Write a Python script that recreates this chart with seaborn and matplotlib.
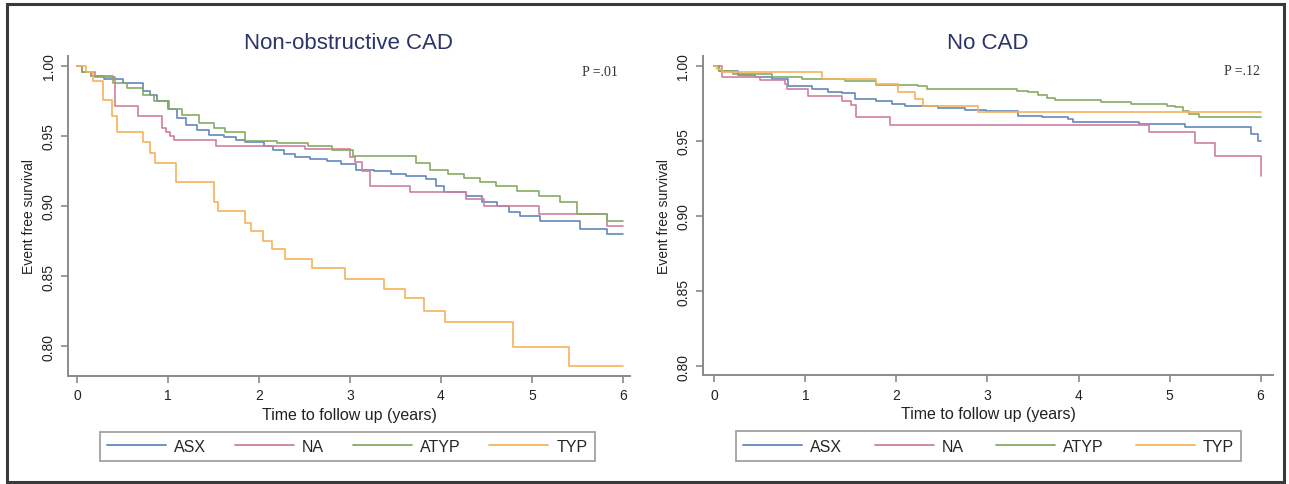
import numpy as np
import pandas as pd
import matplotlib
matplotlib.use("Agg")
from matplotlib import pyplot as plt
from matplotlib.patches import Rectangle
import seaborn as sns

# group labels + colours (Stata-ish muted palette)
groups = ["ASX", "NA", "ATYP", "TYP"]
colors = {"ASX": "#6288bb", "NA": "#cf7fa0", "ATYP": "#86ab62", "TYP": "#f5b35a"}

# ---- Non-obstructive CAD (left panel), step times (years) and survival ----
left_asx_t = [0, 0.05, 0.15, 0.3, 0.5, 0.72, 0.8, 0.88, 1.0, 1.1, 1.2, 1.32, 1.45, 1.61, 1.75, 1.85,
              2.05, 2.15, 2.27, 2.4, 2.56, 2.75, 2.9, 3.07, 3.26, 3.45, 3.62, 3.84, 3.95, 4.03, 4.28,
              4.45, 4.61, 4.75, 4.87, 5.09, 5.53, 5.82, 6.0]
left_asx_s = [1.0, 0.996, 0.993, 0.991, 0.988, 0.982, 0.979, 0.975, 0.969, 0.963, 0.958, 0.954, 0.951,
              0.949, 0.947, 0.946, 0.943, 0.940, 0.937, 0.935, 0.9336, 0.932, 0.930, 0.926, 0.925,
              0.923, 0.9216, 0.919, 0.914, 0.910, 0.907, 0.903, 0.900, 0.896, 0.893, 0.889, 0.8836,
              0.880, 0.880]

left_na_t = [0, 0.05, 0.2, 0.42, 0.67, 0.93, 0.98, 1.02, 1.07, 1.53, 2.5, 3.0, 3.05, 3.13, 3.22,
             3.66, 4.28, 4.47, 5.08, 5.82, 6.0]
left_na_s = [1.0, 0.996, 0.992, 0.9717, 0.964, 0.956, 0.953, 0.950, 0.947, 0.943, 0.941, 0.935,
             0.9317, 0.925, 0.9145, 0.910, 0.905, 0.900, 0.894, 0.886, 0.886]

left_atyp_t = [0, 0.05, 0.15, 0.4, 0.55, 0.72, 0.85, 1.01, 1.15, 1.34, 1.5, 1.63, 1.85, 2.2, 2.54,
               2.8, 3.03, 3.73, 3.88, 4.08, 4.25, 4.43, 4.6, 4.83, 5.08, 5.31, 5.49, 5.82, 6.0]
left_atyp_s = [1.0, 0.996, 0.993, 0.988, 0.984, 0.979, 0.975, 0.969, 0.965, 0.959, 0.956, 0.9526,
               0.9467, 0.945, 0.9426, 0.940, 0.9355, 0.931, 0.926, 0.923, 0.920, 0.917, 0.914,
               0.911, 0.9074, 0.903, 0.894, 0.889, 0.889]

left_typ_t = [0, 0.1, 0.18, 0.29, 0.38, 0.44, 0.73, 0.8, 0.86, 1.09, 1.50, 1.55, 1.85, 1.91, 2.04,
              2.14, 2.29, 2.58, 2.95, 3.37, 3.60, 3.81, 4.04, 4.79, 5.41, 6.0]
left_typ_s = [1.0, 0.996, 0.9895, 0.976, 0.964, 0.9526, 0.946, 0.938, 0.931, 0.917, 0.903, 0.8967,
              0.888, 0.882, 0.875, 0.869, 0.862, 0.8555, 0.848, 0.841, 0.834, 0.825, 0.817, 0.799,
              0.786, 0.786]

# ---- No CAD (right panel) ----
right_asx_t = [0, 0.05, 0.26, 0.45, 0.63, 0.81, 1.07, 1.25, 1.40, 1.54, 1.78, 1.95, 2.09, 2.46, 2.75,
               2.98, 3.34, 3.6, 3.89, 3.94, 4.66, 5.17, 5.90, 5.97, 6.0]
right_asx_s = [1.0, 0.997, 0.9942, 0.993, 0.9913, 0.9869, 0.9847, 0.983, 0.9818, 0.978, 0.9769, 0.975,
               0.9735, 0.972, 0.9707, 0.9698, 0.967, 0.966, 0.9647, 0.9624, 0.9613, 0.9596, 0.9547,
               0.950, 0.950]

right_na_t = [0, 0.08, 0.5, 0.77, 0.8, 1.03, 1.40, 1.50, 1.56, 1.93, 4.77, 5.28, 5.50, 6.0]
right_na_s = [1.0, 0.9924, 0.991, 0.988, 0.9847, 0.980, 0.9769, 0.974, 0.9658, 0.961, 0.9558, 0.949,
              0.940, 0.927]

right_atyp_t = [0, 0.05, 0.2, 0.63, 0.96, 1.43, 1.78, 2.24, 2.33, 3.32, 3.45, 3.56, 3.65, 3.74, 4.25,
                4.58, 4.97, 5.06, 5.15, 5.21, 5.32, 6.0]
right_atyp_s = [1.0, 0.9965, 0.9947, 0.9929, 0.9913, 0.9898, 0.9876, 0.9864, 0.985, 0.9836, 0.9825,
                0.981, 0.979, 0.9773, 0.9758, 0.9747, 0.9735, 0.9724, 0.970, 0.968, 0.9662, 0.9662]

right_typ_t = [0, 0.03, 0.08, 1.18, 1.78, 2.02, 2.20, 2.29, 2.90, 6.0]
right_typ_s = [1.0, 0.998, 0.9958, 0.9913, 0.988, 0.9824, 0.978, 0.9735, 0.9695, 0.9695]

yticks = [0.80, 0.85, 0.90, 0.95, 1.00]
xticks = [0, 1, 2, 3, 4, 5, 6]


def to_long(series):
    frames = []
    for g, (t, s) in zip(groups, series):
        frames.append(pd.DataFrame({"t": t, "S": s, "group": g}))
    return pd.concat(frames, ignore_index=True)


def draw_panel(ax, df, title, pval, xlim, ylim):
    sns.lineplot(data=df, x="t", y="S", hue="group", hue_order=groups, palette=colors,
                 drawstyle="steps-post", estimator=None, sort=False, linewidth=1.2, ax=ax)
    ax.set_xlim(*xlim)
    ax.set_ylim(*ylim)
    ax.set_xticks(xticks)
    ax.set_yticks(yticks)
    ax.set_yticklabels([f"{v:.2f}" for v in yticks], rotation=90, va="center")
    ax.tick_params(axis="both", which="major", bottom=True, left=True, direction="out",
                   length=5, width=1.2, color="#8a8a8a", labelsize=10, labelcolor="#222222", pad=4)
    for side in ["top", "right"]:
        ax.spines[side].set_visible(False)
    for side in ["left", "bottom"]:
        ax.spines[side].set_color("#8a8a8a")
        ax.spines[side].set_linewidth(1.4)
    ax.set_xlabel("Time to follow up (years)", fontsize=11.5, color="#222222", labelpad=3)
    ax.set_ylabel("Event free survival", fontsize=10, color="#222222", labelpad=4)
    ax.set_title(title, fontsize=16, color="#2a3468", pad=6)
    ax.text(0.978, 0.953, pval, transform=ax.transAxes, ha="right", va="center",
            fontsize=10, color="#333333", family=["Liberation Serif", "DejaVu Serif"])
    handles, labels = ax.get_legend_handles_labels()
    leg = ax.legend(handles, labels, ncol=4, loc="lower left", mode="expand",
                    bbox_to_anchor=(0.057, -0.266, 0.88, 0.1), fontsize=11.5,
                    handlelength=3.7, handletextpad=0.5, fancybox=False, frameon=True,
                    borderpad=0.45, borderaxespad=0)
    leg.get_frame().set_edgecolor("#8a8a8a")
    leg.get_frame().set_linewidth(1.3)
    for line in leg.get_lines():
        line.set_linewidth(1.3)


sns.set_theme(style="white")
plt.rcParams["font.family"] = ["Liberation Sans", "DejaVu Sans"]

fig = plt.figure(figsize=(12.89, 4.85), dpi=100)
ax1 = fig.add_axes([68 / 1289, 1 - 377 / 485, 562 / 1289, 320 / 485])
ax2 = fig.add_axes([703 / 1289, 1 - 376 / 485, 570 / 1289, 319 / 485])

left_df = to_long([(left_asx_t, left_asx_s), (left_na_t, left_na_s),
                   (left_atyp_t, left_atyp_s), (left_typ_t, left_typ_s)])
right_df = to_long([(right_asx_t, right_asx_s), (right_na_t, right_na_s),
                    (right_atyp_t, right_atyp_s), (right_typ_t, right_typ_s)])

draw_panel(ax1, left_df, "Non-obstructive CAD", "P =.01", (-0.099, 6.077), (0.7786, 1.0071))
draw_panel(ax2, right_df, "No CAD", "P =.12", (-0.126, 6.137), (0.794, 1.0067))
ax2.get_legend().set_bbox_to_anchor((0.058, -0.269, 0.886, 0.1), transform=ax2.transAxes)

# outer frame around the whole graphic
fig.patches.append(Rectangle((7 / 1289, 2 / 485), 1277 / 1289, 478 / 485, transform=fig.transFigure,
                             fill=False, edgecolor="#3a3a3a", linewidth=2.2))

fig.savefig("out.png", dpi=100, facecolor="white")
